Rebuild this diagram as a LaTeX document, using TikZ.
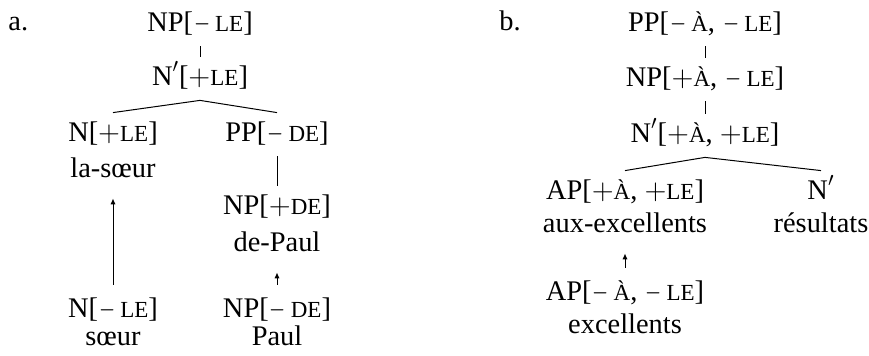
\documentclass[tikz,border=0pt]{standalone}
\usepackage{graphicx}
\usepackage{fontspec}
\setmainfont{Liberation Serif}
\usetikzlibrary{positioning, arrows.meta}

\newcommand\fsc[1]{{\fontsize{11.5}{13}\selectfont #1}}
\newcommand\mi{\kern0.5pt\scalebox{0.72}[1]{$-$}\kern2.5pt}
\newcommand\pl{$+$}
\newcommand\bbar{\raisebox{1.5pt}{$'$}}

\begin{document}
\begin{tikzpicture}[
    x=0.5pt, y=-0.5pt,
    cat/.style={
      anchor=base,
      inner xsep=0pt,
      inner ysep=4.5pt,
      text height=10pt,
      text depth=2.5pt,
      font=\fontsize{14.2}{17}\selectfont
    },
    branch/.style={
      line width=0.5pt
    },
    move/.style={
      -{Latex[length=3pt, width=2.6pt]},
      line width=0.5pt,
      shorten <=2pt,
      shorten >=3pt
    }
  ]
  \useasboundingbox (0,0) rectangle (869,356);

    % tree a
    \node[cat, anchor=base west] (lbla) at (8,31) {a.};

    \node[cat] (np1) at (200,32) {NP[\mi\fsc{LE}]};
    \node[below=27pt of np1.base, cat] (nbar1) {N\bbar[\pl\fsc{LE}]};

    \node[below left=28pt and 43.5pt of nbar1.base, cat] (n1) {N[\pl\fsc{LE}]};
    \node[below=18pt of n1.base, cat] (w1) {la-sœur};

    \node[below right=28pt and 38.5pt of nbar1.base, cat] (pp1) {PP[\mi\fsc{DE}]};
    \node[below=36.5pt of pp1.base, cat] (np2) {NP[\pl\fsc{DE}]};
    \node[below=18.5pt of np2.base, cat] (w2) {de-Paul};

    \node[below=70pt of w1.base, cat] (n2) {N[\mi\fsc{LE}]};
    \node[below=14pt of n2.base, cat] (w3) {sœur};

    \node[below=33pt of w2.base, cat] (np3) {NP[\mi\fsc{DE}]};
    \node[below=14pt of np3.base, cat] (w4) {Paul};

    \draw[branch] (np1.south) -- (nbar1.north);
    \draw[branch] (nbar1.south) -- (n1.north);
    \draw[branch] (nbar1.south) -- (pp1.north);
    \draw[branch] (pp1.south) -- (np2.north);
    \draw[move] (n2.north) -- (w1.south);
    \draw[move] (np3.north) -- (w2.south);

    % tree b
    \node[cat, anchor=base west] (lblb) at (499,31) {b.};

    \node[cat] (pp2) at (705,32) {PP[\mi\fsc{À}, \mi\fsc{LE}]};
    \node[below=27.5pt of pp2.base, cat] (np4) {NP[\pl\fsc{À}, \mi\fsc{LE}]};
    \node[below=28pt of np4.base, cat] (nbar2) {N\bbar[\pl\fsc{À}, \pl\fsc{LE}]};

    \node[below left=28.5pt and 40pt of nbar2.base, cat] (ap1) {AP[\pl\fsc{À}, \pl\fsc{LE}]};
    \node[below=16.5pt of ap1.base, cat] (w5) {aux-excellents};

    \node[below right=28.5pt and 58pt of nbar2.base, cat] (nbar3) {N\bbar};
    \node[below=16.5pt of nbar3.base, cat] (w6) {résultats};

    \node[below=34pt of w5.base, cat] (ap2) {AP[\mi\fsc{À}, \mi\fsc{LE}]};
    \node[below=16.5pt of ap2.base, cat] (w7) {excellents};

    \draw[branch] (pp2.south) -- (np4.north);
    \draw[branch] (np4.south) -- (nbar2.north);
    \draw[branch] (nbar2.south) -- (ap1.north);
    \draw[branch] (nbar2.south) -- (nbar3.north);
    \draw[move] (ap2.north) -- (w5.south);

  \end{tikzpicture}
\end{document}
